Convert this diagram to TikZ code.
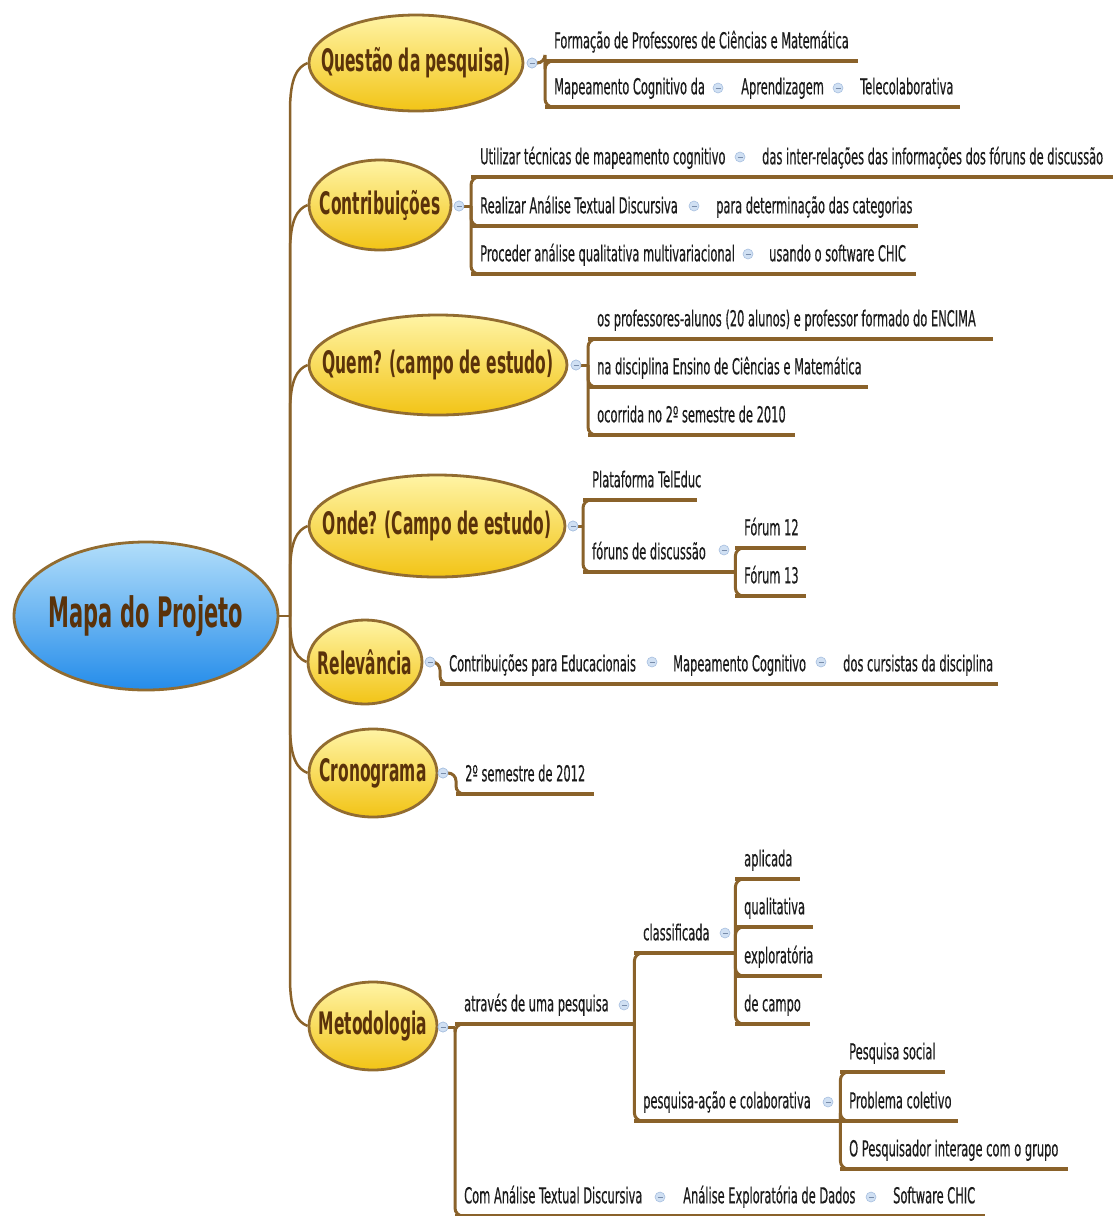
\documentclass[tikz,border=0pt]{standalone}
\usepackage{fontspec}
\setmainfont{DejaVu Sans}[FakeStretch=0.52, FakeBold=0.3]
\newfontfamily\headfam{DejaVu Sans}[FakeStretch=0.5]
\usetikzlibrary{shapes.geometric,calc}

\definecolor{branch}{RGB}{138,98,42}
\definecolor{rim}{RGB}{146,108,48}
\definecolor{headtext}{RGB}{90,50,10}
\definecolor{subtext}{RGB}{28,28,28}
\definecolor{yelA}{RGB}{255,244,165}
\definecolor{yelB}{RGB}{242,196,22}
\definecolor{bluA}{RGB}{178,222,250}
\definecolor{bluB}{RGB}{36,140,234}
\definecolor{mkfill}{RGB}{208,224,243}
\definecolor{mkdraw}{RGB}{168,192,224}
\definecolor{mkdash}{RGB}{120,140,170}

\newcommand\subfont{\fontsize{22}{26}\selectfont}
\newcommand\headfont{\headfam\fontsize{31}{35}\selectfont\bfseries}
\newcommand\rootfont{\headfam\fontsize{42}{46}\selectfont\bfseries}
% fixed-width label: text starts 9pt after the bracket, box sets the underline length
\newcommand\tw[2]{\makebox[#1pt][l]{\hspace*{9pt}#2}}

\begin{document}
\begin{tikzpicture}[x=1pt,y=-1pt,
  rootnode/.style={ellipse, draw=rim, line width=2.8pt, top color=bluA, bottom color=bluB,
    minimum width=264pt, minimum height=148pt, inner sep=0pt,
    label={[font=\rootfont, text=headtext]center:#1}},
  topic/.style={ellipse, draw=rim, line width=2.8pt, top color=yelA, bottom color=yelB,
    inner sep=0pt, label={[font=\headfont, text=headtext]center:#1}},
  sub/.style={anchor=south west, inner xsep=0pt, inner ysep=0pt, text height=15pt,
    text depth=12.5pt, font=\subfont, text=subtext},
  mk/.style={circle, minimum size=10pt, inner sep=0pt, fill=mkfill, draw=mkdraw, line width=0.6pt,
    path picture={\draw[mkdash, line width=0.8pt]
      ([xshift=-2.5pt]path picture bounding box.center) -- ([xshift=2.5pt]path picture bounding box.center);}},
  trunk/.style={draw=branch, line width=2.5pt},
  conn/.style={draw=branch, line width=3pt, rounded corners=8pt},
  uline/.style={draw=branch, line width=4pt}
]
\fill[white] (0,0) rectangle (1113,1216);
\useasboundingbox (0,0) rectangle (1113,1216);

% ---------- central topic and main topics ----------
\node[rootnode={Mapa do Projeto}] (root) at (146,616) {};
\coordinate (hub) at (290,616);

\node[topic={Questão da pesquisa)}, minimum width=214pt, minimum height=96pt]     (tq) at (416,63) {};
\node[topic={Contribuições}, minimum width=142pt, minimum height=90pt]            (tc) at (380,205) {};
\node[topic={Quem? (campo de estudo)}, minimum width=258pt, minimum height=100pt] (tw) at (438,365) {};
\node[topic={Onde? (Campo de estudo)}, minimum width=256pt, minimum height=102pt] (to) at (437,526) {};
\node[topic={Relevância}, minimum width=114pt, minimum height=84pt]               (tr) at (365,662) {};
\node[topic={Cronograma}, minimum width=128pt, minimum height=88pt]               (tk) at (373,773) {};
\node[topic={Metodologia}, minimum width=128pt, minimum height=88pt]              (tm) at (373,1026) {};

% main branches: straight up or down the trunk, then a soft bend into the topic
\draw[trunk] (root.east) -- (hub);
\foreach \t in {tq,tc,tw,to}
  \draw[trunk] (hub) -- ($(hub |- \t.west)+(0,48)$)
    .. controls ($(hub |- \t.west)+(0,14)$) and ($(\t.west)+(-10,4)$) .. (\t.west);
\foreach \t in {tk,tm}
  \draw[trunk] (hub) -- ($(hub |- \t.west)+(0,-48)$)
    .. controls ($(hub |- \t.west)+(0,-14)$) and ($(\t.west)+(-10,-4)$) .. (\t.west);
\draw[trunk] (hub) .. controls ($(hub)+(0,26)$) and ($(tr.west)+(-14,-6)$) .. (tr.west);

% collapse markers of the main topics and bracket junctions
\node[mk] (mq) at (532,63) {};   \coordinate (jq) at (545,63);
\node[mk] (mc) at (459,206) {};  \coordinate (jc) at (471,206);
\node[mk] (mw) at (576,365) {};  \coordinate (jw) at (588,365);
\node[mk] (mo) at (573,526) {};  \coordinate (jo) at (583,526);
\node[mk] (mr) at (430,662) {};  \coordinate (jr) at (440,662);
\node[mk] (mk) at (443,773) {};  \coordinate (jk) at (456,773);
\node[mk] (mm) at (443,1027) {}; \coordinate (jm) at (455,1027);

% ---------- Questão da pesquisa ----------
\node[sub] (q1)  at (545,61)  {\tw{313}{Formação de Professores de Ciências e Matemática}};
\node[sub] (q2a) at (545,107) {\tw{167}{Mapeamento Cognitivo da}};
\node[mk]  (mq2a) at (718,88) {};
\node[sub] (q2b) at (732,107) {\tw{98}{Aprendizagem}};
\node[mk]  (mq2b) at (838,88) {};
\node[sub] (q2c) at (851,107) {\tw{109}{Telecolaborativa}};
\draw[conn] (mq.east) -- (jq) |- ([xshift=14pt]q1.south west);
\draw[conn] (jq) |- ([xshift=14pt]q2a.south west);
\draw[uline] (q1.south west) -- (q1.south east);
\draw[uline] (q2a.south west) -- (q2c.south east);

% ---------- Contribuições ----------
\node[sub] (c1a) at (471,177) {\tw{262}{Utilizar técnicas de mapeamento cognitivo}};
\node[mk]  (mc1) at (740,157) {};
\node[sub] (c1b) at (753,177) {\tw{360}{das inter-relações das informações dos fóruns de discussão}};
\node[sub] (c2a) at (471,226) {\tw{215}{Realizar Análise Textual Discursiva}};
\node[mk]  (mc2) at (694,206) {};
\node[sub] (c2b) at (707,226) {\tw{211}{para determinação das categorias}};
\node[sub] (c3a) at (471,274) {\tw{270}{Proceder análise qualitativa multivariacional}};
\node[mk]  (mc3) at (748,254) {};
\node[sub] (c3b) at (760,274) {\tw{156}{usando o software CHIC}};
\draw[conn] (mc.east) -- (jc);
\foreach \n in {c1a,c2a,c3a}
  \draw[conn] (jc) |- ([xshift=14pt]\n.south west);
\draw[uline] (c1a.south west) -- (c1b.south east);
\draw[uline] (c2a.south west) -- (c2b.south east);
\draw[uline] (c3a.south west) -- (c3b.south east);

% ---------- Quem? ----------
\node[sub] (w1) at (588,339) {\tw{405}{os professores-alunos (20 alunos) e professor formado do ENCIMA}};
\node[sub] (w2) at (588,387) {\tw{280}{na disciplina Ensino de Ciências e Matemática}};
\node[sub] (w3) at (588,435) {\tw{207}{ocorrida no 2º semestre de 2010}};
\draw[conn] (mw.east) -- (jw);
\foreach \n in {w1,w2,w3}{
  \draw[conn] (jw) |- ([xshift=14pt]\n.south west);
  \draw[uline] (\n.south west) -- (\n.south east);}

% ---------- Onde? ----------
\node[sub] (o1) at (583,500) {\tw{114}{Plataforma TelEduc}};
\node[sub] (o2) at (583,572) {\tw{152}{fóruns de discussão}};
\node[mk]  (mo2) at (724,550) {};
\node[sub] (f1) at (735,548) {\tw{71}{Fórum 12}};
\node[sub] (f2) at (735,596) {\tw{71}{Fórum 13}};
\draw[conn] (mo.east) -- (jo);
\foreach \n in {o1,o2}
  \draw[conn] (jo) |- ([xshift=14pt]\n.south west);
\foreach \n in {f1,f2}
  \draw[conn] (o2.south east) |- ([xshift=12pt]\n.south west);
\foreach \n in {o1,o2,f1,f2}
  \draw[uline] (\n.south west) -- (\n.south east);

% ---------- Relevância ----------
\node[sub] (r1) at (440,684) {\tw{205}{Contribuições para Educacionais}};
\node[mk]  (mr1) at (652,662) {};
\node[sub] (r2) at (664,684) {\tw{150}{Mapeamento Cognitivo}};
\node[mk]  (mr2) at (821,662) {};
\node[sub] (r3) at (834,684) {\tw{164}{dos cursistas da disciplina}};
\draw[conn] (mr.east) -- (jr) |- ([xshift=14pt]r1.south west);
\draw[uline] (r1.south west) -- (r3.south east);

% ---------- Cronograma ----------
\node[sub] (k1) at (456,794) {\tw{138}{2º semestre de 2012}};
\draw[conn] (mk.east) -- (jk) |- ([xshift=14pt]k1.south west);
\draw[uline] (k1.south west) -- (k1.south east);

% ---------- Metodologia ----------
\node[sub] (m1)  at (455,1024) {\tw{179}{através de uma pesquisa}};
\node[mk]  (mm1) at (624,1005) {};
\node[sub] (m11) at (634,953)  {\tw{101}{classificada}};
\node[mk]  (mm11) at (725,933) {};
\node[sub] (a1) at (735,879)  {\tw{65}{aplicada}};
\node[sub] (a2) at (735,927)  {\tw{78}{qualitativa}};
\node[sub] (a3) at (735,976)  {\tw{87}{exploratória}};
\node[sub] (a4) at (735,1024) {\tw{75}{de campo}};
\node[sub] (m12) at (634,1121) {\tw{206}{pesquisa-ação e colaborativa}};
\node[mk]  (mm12) at (828,1102) {};
\node[sub] (p1) at (840,1072) {\tw{105}{Pesquisa social}};
\node[sub] (p2) at (840,1121) {\tw{118}{Problema coletivo}};
\node[sub] (p3) at (840,1169) {\tw{228}{O Pesquisador interage com o grupo}};
\node[sub] (m2a) at (455,1216) {\tw{197}{Com Análise Textual Discursiva}};
\node[mk]  (mm2a) at (660,1197) {};
\node[sub] (m2b) at (674,1216) {\tw{190}{Análise Exploratória de Dados}};
\node[mk]  (mm2b) at (871,1197) {};
\node[sub] (m2c) at (884,1216) {\tw{101}{Software CHIC}};

\draw[conn] (mm.east) -- (jm);
\foreach \n in {m1,m2a}
  \draw[conn] (jm) |- ([xshift=14pt]\n.south west);
\foreach \n in {m11,m12}
  \draw[conn] (m1.south east) |- ([xshift=12pt]\n.south west);
\foreach \n in {a1,a2,a3,a4}
  \draw[conn] (m11.south east) |- ([xshift=12pt]\n.south west);
\foreach \n in {p1,p2,p3}
  \draw[conn] (m12.south east) |- ([xshift=12pt]\n.south west);
\foreach \n in {m1,m11,m12,a1,a2,a3,a4,p1,p2,p3}
  \draw[uline] (\n.south west) -- (\n.south east);
\draw[uline] (m2a.south west) -- (m2c.south east);

% markers stay on top of their stubs
\foreach \m in {mq,mc,mw,mo,mr,mk,mm}
  \node[mk] at (\m) {};
\end{tikzpicture}
\end{document}
